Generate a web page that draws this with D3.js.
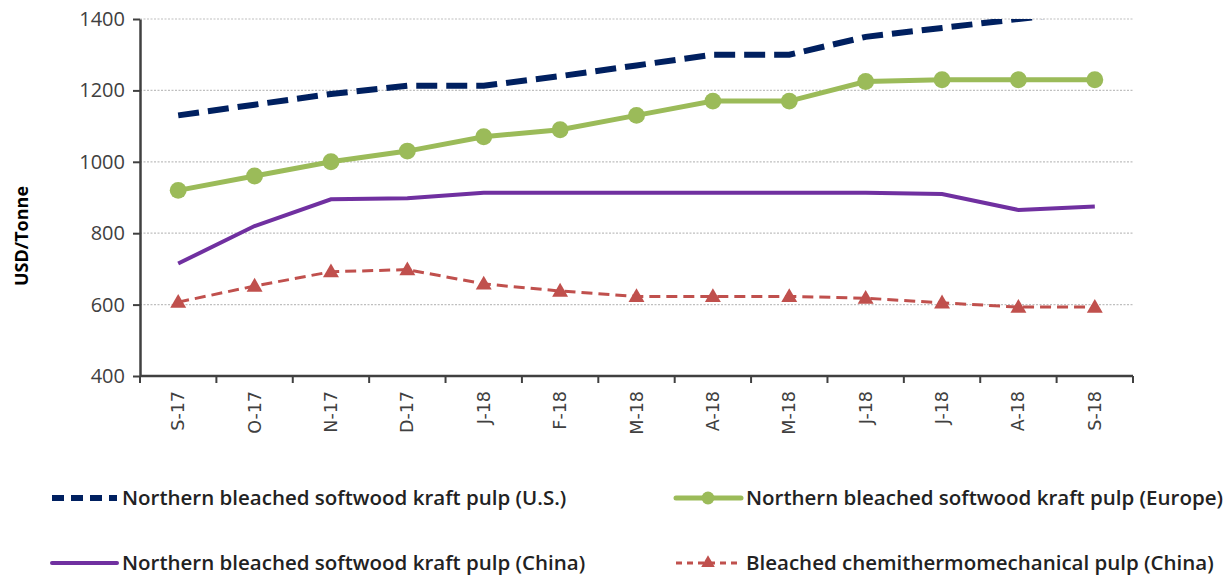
<!DOCTYPE html>
<html>
<head>
<meta charset="utf-8">
<script src="https://cdn.jsdelivr.net/npm/d3@7"></script>
<style>
  body { margin: 0; background: #fff; }
  svg { display: block; }
</style>
</head>
<body>
<div id="chart"></div>
<script>
// chart data
const months = ["S-17", "O-17", "N-17", "D-17", "J-18", "F-18", "M-18", "A-18", "M-18", "J-18", "J-18", "A-18", "S-18"];
const nbskUS     = [1130, 1160, 1190, 1213, 1213, 1240, 1270, 1300, 1300, 1350, 1375, 1400, 1425];
const nbskEurope = [920, 960, 1000, 1030, 1070, 1090, 1130, 1170, 1170, 1225, 1230, 1230, 1230];
const nbskChina  = [715, 820, 895, 898, 913, 913, 913, 913, 913, 913, 910, 865, 875];
const bctmpChina = [607, 652, 692, 698, 658, 638, 623, 623, 623, 618, 605, 593, 593];
const yTicks = [400, 600, 800, 1000, 1200, 1400];
const seriesNames = [
  "Northern bleached softwood kraft pulp (U.S.)",
  "Northern bleached softwood kraft pulp (Europe)",
  "Northern bleached softwood kraft pulp (China)",
  "Bleached chemithermomechanical pulp (China)"
];

const W = 1228, H = 577;
const margin = {top: 19, left: 140, right: 95, bottom: 201};
const width = W - margin.left - margin.right,
      height = H - margin.top - margin.bottom;

const svg = d3.select("#chart").append("svg")
    .attr("width", W).attr("height", H);

const g = svg.append("g")
    .attr("transform", `translate(${margin.left},${margin.top})`);

const x = d3.scaleBand().domain(d3.range(months.length)).range([0, width]);
const y = d3.scaleLinear().domain([400, 1400]).range([height, 0]);
const cx = i => x(i) + x.bandwidth() / 2;

// dotted grid
g.selectAll(".grid").data(yTicks.slice(1)).join("line")
    .attr("x1", 0).attr("x2", width)
    .attr("y1", d => y(d)).attr("y2", d => y(d))
    .attr("stroke", "#bfbfbf").attr("stroke-width", 1.2)
    .attr("stroke-dasharray", "2,1.5");

// clip for values above the top
svg.append("defs").append("clipPath").attr("id", "plotclip")
  .append("rect").attr("x", 0).attr("y", 0).attr("width", width).attr("height", height);

const series = [
  {name: seriesNames[0], values: nbskUS, color: "#002060", w: 6, dash: "21,9", ldash: "12,7", marker: null},
  {name: seriesNames[1], values: nbskEurope, color: "#9BBB59", w: 5, dash: null, marker: "circle"},
  {name: seriesNames[2], values: nbskChina, color: "#7030A0", w: 4, dash: null, marker: null},
  {name: seriesNames[3], values: bctmpChina, color: "#C0504D", w: 3, dash: "11,6", ldash: "6,5", marker: "triangle"}
];

const line = d3.line().x((d, i) => cx(i)).y(d => y(d));
const plot = g.append("g").attr("clip-path", "url(#plotclip)");

series.forEach(s => {
  plot.append("path")
      .datum(s.values)
      .attr("d", line)
      .attr("fill", "none")
      .attr("stroke", s.color)
      .attr("stroke-width", s.w)
      .attr("stroke-dasharray", s.dash);
  if (s.marker) {
    const sym = d3.symbol()
      .type(s.marker === "circle" ? d3.symbolCircle : d3.symbolTriangle)
      .size(s.marker === "circle" ? 225 : 110);
    plot.selectAll(null).data(s.values).join("path")
        .attr("transform", (d, i) => `translate(${cx(i)},${y(d) + (s.marker === "triangle" ? 1 : 0)})`)
        .attr("d", sym)
        .attr("fill", s.color);
  }
});

// y axis
const yAxis = g.append("g")
    .call(d3.axisLeft(y).tickValues(yTicks).tickFormat(d3.format("d"))
      .tickSize(7).tickSizeOuter(0).tickPadding(8));
yAxis.select(".domain").attr("stroke", "#404040").attr("stroke-width", 2.5);
yAxis.selectAll(".tick line").attr("stroke", "#404040").attr("stroke-width", 2);
yAxis.selectAll("text")
    .attr("fill", "#404040")
    .style("font-family", "'Open Sans', sans-serif")
    .style("font-size", "20px");

// x axis, ticks between categories
const xg = g.append("g").attr("transform", `translate(0,${height})`);
xg.append("line").attr("x1", 0).attr("x2", width)
    .attr("stroke", "#404040").attr("stroke-width", 2.5);
xg.selectAll(".xt").data(d3.range(months.length + 1)).join("line")
    .attr("x1", i => i * x.step()).attr("x2", i => i * x.step())
    .attr("y1", 0).attr("y2", 7)
    .attr("stroke", "#404040").attr("stroke-width", 2);
xg.selectAll(".xl").data(months).join("text")
    .attr("transform", (d, i) => `translate(${cx(i) + 6},15) rotate(-90)`)
    .attr("text-anchor", "end")
    .attr("fill", "#404040")
    .style("font-family", "'DejaVu Sans', sans-serif")
    .style("font-size", "17.5px")
    .text(d => d);

// y axis title
svg.append("text")
    .attr("transform", `translate(28,236) rotate(-90)`)
    .attr("text-anchor", "middle")
    .attr("fill", "#000")
    .style("font-family", "'Open Sans', sans-serif")
    .style("font-weight", "bold")
    .style("font-size", "18px")
    .text("USD/Tonne");

// legend
const legendPos = [
  {x: 52, y: 498}, {x: 676, y: 498},
  {x: 52, y: 563}, {x: 676, y: 563}
];
series.forEach((s, k) => {
  const p = legendPos[k];
  const lg = svg.append("g").attr("transform", `translate(${p.x},${p.y})`);
  lg.append("line").attr("x1", 0).attr("x2", 65).attr("y1", 0).attr("y2", 0)
      .attr("stroke", s.color).attr("stroke-width", s.w)
      .attr("stroke-linecap", s.ldash ? "butt" : "round")
      .attr("stroke-dasharray", s.ldash || null);
  if (s.marker) {
    const sym = d3.symbol()
      .type(s.marker === "circle" ? d3.symbolCircle : d3.symbolTriangle)
      .size(s.marker === "circle" ? 130 : 80);
    lg.append("path").attr("transform", "translate(32,0)").attr("d", sym).attr("fill", s.color);
  }
  lg.append("text")
      .attr("x", 70).attr("y", 7)
      .attr("fill", "#222")
      .style("font-family", "'Open Sans', sans-serif")
      .style("font-weight", "600")
      .style("font-size", "20.5px")
      .text(s.name);
});
</script>
</body>
</html>
